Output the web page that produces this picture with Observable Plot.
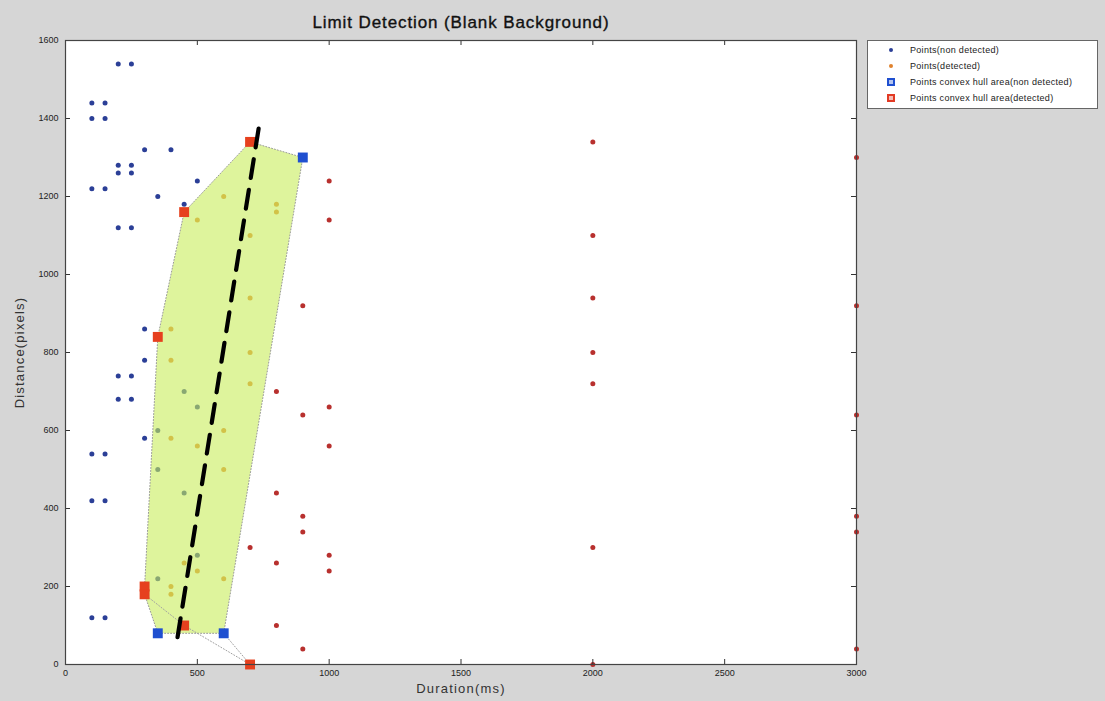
<!DOCTYPE html>
<html>
<head>
<meta charset="utf-8">
<script src="https://cdn.jsdelivr.net/npm/d3@7"></script>
<script src="https://cdn.jsdelivr.net/npm/@observablehq/plot@0.6"></script>
<style>
  body { margin: 0; background: #d6d6d6; font-family: "Liberation Sans", Arial, sans-serif; }
  #wrap { position: relative; width: 1105px; height: 701px; }
  #legend { position: absolute; left: 867px; top: 40px; width: 231px; height: 69px; background: #fff;
            border: 1px solid #666; box-sizing: border-box; font-size: 9px; letter-spacing: 0.3px; color: #222; }
  .row { position: absolute; left: 0; height: 12px; line-height: 12px; white-space: nowrap; }
  .mk { position: absolute; box-sizing: border-box; }
  .lt { position: absolute; left: 42px; top: 0; }
</style>
</head>
<body>
<div id="wrap">
  <div id="chart"></div>
  <div id="legend"></div>
</div>
<script>
// ---- data (Duration ms, Distance pixels) ----
const nonDetected = [
  [200,1540],[250,1540],[100,1440],[150,1440],[100,1400],[150,1400],
  [300,1320],[400,1320],[200,1280],[250,1280],[200,1260],[250,1260],
  [500,1240],[100,1220],[150,1220],[350,1200],[450,1180],[200,1120],[250,1120],
  [300,860],[300,780],[200,740],[250,740],[450,700],[200,680],[250,680],
  [500,660],[350,600],[300,580],[100,540],[150,540],[350,500],
  [450,440],[100,420],[150,420],[500,280],[350,220],[100,120],[150,120]
];
const detected = [
  [600,1200],[800,1180],[800,1160],[500,1140],[700,1100],[700,940],
  [400,860],[700,800],[400,780],[700,720],[600,600],[400,580],[500,560],
  [600,500],[450,260],[500,240],[600,220],[400,200],[400,180]
];
const detectedFar = [
  [1000,1240],[1000,1140],[900,920],[800,700],[1000,660],[900,640],[1000,560],
  [800,440],[900,380],[900,340],[700,300],[1000,280],[800,260],[1000,240],
  [800,100],[900,40],
  [2000,1340],[2000,1100],[2000,940],[2000,800],[2000,720],[2000,300],[2000,0],
  [3000,1300],[3000,920],[3000,640],[3000,380],[3000,340],[3000,40]
];
const hullNonDetected = [[350,80],[600,80],[900,1300]];
const hullDetected = [[300,200],[300,180],[350,840],[450,1160],[700,1340],[450,100],[700,0]];
const hullArea = [[300,180],[300,200],[350,840],[450,1160],[700,1340],[900,1300],[600,80],[350,80],[300,180]];
const hullDetectedEdge = [[300,180],[450,100],[700,0],[600,80]];
const fitLine = [[425,70],[735,1385]];
const xTicks = [0,500,1000,1500,2000,2500,3000];
const yTicks = [0,200,400,600,800,1000,1200,1400,1600];
const titleText = "Limit Detection (Blank Background)";
const xLabel = "Duration(ms)";
const yLabel = "Distance(pixels)";
const legendItems = [
  {label: "Points(non detected)", kind: "dot", color: "#2b3f97"},
  {label: "Points(detected)", kind: "dot", color: "#e0822e"},
  {label: "Points convex hull area(non detected)", kind: "square", color: "#1f4fd0"},
  {label: "Points convex hull area(detected)", kind: "square", color: "#e23a24"}
];

const C = {blue: "#2b3f97", orange: "#e0822e", red: "#b8302e", sqBlue: "#1f4fd0", sqRed: "#e6401e"};

const chart = Plot.plot({
  width: 1105,
  height: 701,
  marginLeft: 65,
  marginRight: 249,
  marginTop: 40,
  marginBottom: 37,
  style: {background: "#d6d6d6", fontFamily: "'Liberation Sans', Arial, sans-serif", color: "#222"},
  x: {domain: [0, 3000]},
  y: {domain: [0, 1600]},
  marks: [
    Plot.frame({fill: "white", stroke: null}),
    Plot.dot(nonDetected, {x: d => d[0], y: d => d[1], r: 2.5, fill: C.blue, stroke: null}),
    Plot.dot(detected, {x: d => d[0], y: d => d[1], r: 2.5, fill: C.orange, stroke: null}),
    Plot.dot(detectedFar, {x: d => d[0], y: d => d[1], r: 2.5, fill: C.red, stroke: null}),
    Plot.line(hullArea, {x: d => d[0], y: d => d[1], fill: "#c8ec5a", fillOpacity: 0.6,
      stroke: "#9a9a9a", strokeWidth: 1, strokeDasharray: "1,2"}),
    Plot.line(hullDetectedEdge, {x: d => d[0], y: d => d[1], stroke: "#a0a0a0", strokeWidth: 1, strokeDasharray: "1,2"}),
    Plot.dot(hullNonDetected, {x: d => d[0], y: d => d[1], symbol: "square", r: 5.6, fill: C.sqBlue, stroke: null}),
    Plot.dot(hullDetected, {x: d => d[0], y: d => d[1], symbol: "square", r: 5.6, fill: C.sqRed, stroke: null}),
    Plot.line(fitLine, {x: d => d[0], y: d => d[1], stroke: "black", strokeWidth: 4.2, strokeDasharray: "19,12"}),
    // inward ticks (MATLAB style)
    Plot.ruleX(xTicks, {x: d => d, y1: 0, y2: 0, insetTop: -5, stroke: "#333"}),
    Plot.ruleX(xTicks, {x: d => d, y1: 1600, y2: 1600, insetBottom: -5, stroke: "#333"}),
    Plot.ruleY(yTicks, {y: d => d, x1: 0, x2: 0, insetRight: -5, stroke: "#333"}),
    Plot.ruleY(yTicks, {y: d => d, x1: 3000, x2: 3000, insetLeft: -5, stroke: "#333"}),
    Plot.axisX({ticks: xTicks, tickSize: 0, tickPadding: 5, fontSize: 9, tickFormat: d => String(d), label: null}),
    Plot.axisY({ticks: yTicks, tickSize: 0, tickPadding: 7, fontSize: 9, tickFormat: d => String(d), label: null}),
    Plot.frame({stroke: "#444", strokeWidth: 1.2}),
    Plot.text([titleText], {frameAnchor: "top", dy: -25, fontSize: 17, fill: "#111", stroke: "#111", strokeWidth: 0.35}),
    Plot.text([xLabel], {frameAnchor: "bottom", dy: 28, fontSize: 13, fill: "#333", textAnchor: "middle"}),
    Plot.text([yLabel], {frameAnchor: "left", dx: -46, rotate: -90, fontSize: 13, fill: "#333", textAnchor: "middle"})
  ]
});
document.getElementById("chart").appendChild(chart);

// letter spacing on title & axis labels (to mimic the wider reference type)
chart.querySelectorAll("text").forEach(t => {
  const s = t.textContent;
  if (s === titleText) t.setAttribute("letter-spacing", "0.9");
  if (s === xLabel || s === yLabel) t.setAttribute("letter-spacing", "1.2");
});

// legend
const lg = document.getElementById("legend");
legendItems.forEach((it, i) => {
  const row = document.createElement("div");
  row.className = "row";
  row.style.top = (3 + i * 16) + "px";
  const mk = document.createElement("div");
  mk.className = "mk";
  if (it.kind === "dot") {
    mk.style.cssText = `left:21px;top:4px;width:4px;height:4px;border-radius:50%;background:${it.color}`;
  } else {
    mk.style.cssText = `left:19px;top:2px;width:8px;height:8px;border:2px solid ${it.color};background:${it.color}55`;
  }
  const t = document.createElement("div");
  t.className = "lt";
  t.textContent = it.label;
  row.appendChild(mk);
  row.appendChild(t);
  lg.appendChild(row);
});
</script>
</body>
</html>
